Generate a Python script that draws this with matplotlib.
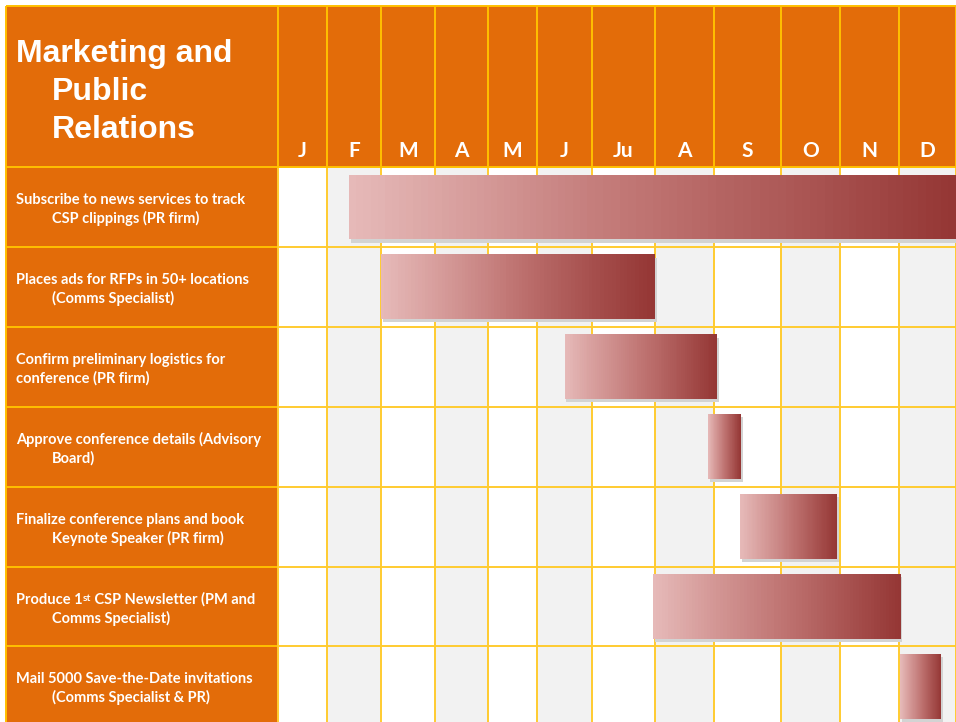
import numpy as np
import matplotlib.pyplot as plt
from matplotlib.patches import Rectangle
from matplotlib.colors import LinearSegmentedColormap

# ---- data ----
title_lines = ['Marketing and', 'Public', 'Relations']
months = ['J', 'F', 'M', 'A', 'M', 'J', 'Ju', 'A', 'S', 'O', 'N', 'D']
task_line1 = [
    'Subscribe to news services to track',
    'Places ads for RFPs in 50+ locations',
    'Confirm preliminary logistics for',
    'Approve conference details (Advisory',
    'Finalize conference plans and book',
    'Produce 1st CSP Newsletter (PM and',
    'Mail 5000 Save-the-Date invitations',
]
task_line2 = [
    'CSP clippings (PR firm)',
    '(Comms Specialist)',
    'conference (PR firm)',
    'Board)',
    'Keynote Speaker (PR firm)',
    'Comms Specialist)',
    '(Comms Specialist & PR)',
]
# start / end of each task in months (0 = start of January, 12 = end of December)
task_start = [1.41, 2.0, 5.5, 7.9, 8.39, 6.97, 11.02]
task_end = [12.0, 7.0, 8.05, 8.4, 9.95, 11.03, 11.74]

# ---- layout (pixels) ----
W, H = 956, 722
X0, XL = 6, 278          # table left edge, label column right edge
Y0, YH = 6, 167          # table top, header bottom
ROW_H = 79.9
col_edges = [278, 327, 381, 435, 488, 537, 592, 655, 714, 781, 840, 899, 956]
indent = [True, True, False, True, True, True, True]

ORANGE = '#E36C09'
GOLD = '#FFC000'
GOLD_LT = '#FFCB30'
GREY = '#F2F2F2'
LBL_FONT = 'Lato'
LW = 1.4

fig = plt.figure(figsize=(W / 100, H / 100), dpi=100)

# background axes in pixel units: header + label column
bg = fig.add_axes([0, 0, 1, 1])
bg.set_xlim(0, W)
bg.set_ylim(H, 0)
bg.axis('off')
bg.add_patch(Rectangle((X0, Y0), W - X0, YH - Y0, color=ORANGE, lw=0))
bg.add_patch(Rectangle((X0, YH), XL - X0, H - YH, color=ORANGE, lw=0))
bg.vlines([X0, XL], Y0, H, color=GOLD, lw=LW)

for k, line in enumerate(title_lines):
    bg.text(16 if k == 0 else 52, 62 + 38 * k, line, color='white', fontsize=23,
            fontweight='bold', family='Liberation Sans', va='baseline')

for i in range(len(task_line1)):
    top = YH + ROW_H * i
    bg.hlines(top, X0, XL, color=GOLD, lw=LW)
    kw = dict(color='white', fontweight='bold', family=LBL_FONT, fontsize=10.5)
    line = task_line1[i]
    if '1st' in line:
        pre, post = line.split('1st')
        t1 = bg.text(16, top + 37, pre + '1', va='baseline', **kw)
        t2 = bg.annotate('st', xy=(1, 1), xycoords=t1, xytext=(0.3, -0.8),
                         textcoords='offset points', va='top', ha='left',
                         color='white', fontweight='bold', family=LBL_FONT, fontsize=7.5)
        bg.annotate(post, xy=(1, 0), xycoords=(t2, t1), va='bottom', ha='left', **kw)
    else:
        bg.text(16, top + 37, line, va='baseline', **kw)
    bg.text(52 if indent[i] else 16, top + 56, task_line2[i], va='baseline', **kw)

# month grid axes: x in months (uneven column widths), y in rows
def fwd(x):
    return np.interp(x, np.arange(13), col_edges)

def inv(p):
    return np.interp(p, col_edges, np.arange(13))

ax = fig.add_axes([XL / W, 0, (W - XL) / W, (H - Y0) / H])
ax.set_xscale('function', functions=(fwd, inv))
ax.set_xlim(0, 12)
y_top = (Y0 - YH) / ROW_H
y_bot = (H - YH) / ROW_H
ax.set_ylim(y_bot, y_top)
ax.axis('off')
ax.patch.set_alpha(0)

n_rows = len(task_line1)
col_colors = ['white' if m % 2 == 0 else GREY for m in range(12)]
ax.bar(np.arange(12), n_rows, width=1, bottom=0, align='edge', color=col_colors, lw=0, zorder=0)
ax.bar(0, -y_top, width=12, bottom=y_top, align='edge', color=ORANGE, lw=0, zorder=0)

for m, lab in enumerate(months):
    ax.text(m + 0.5, -0.125, lab, ha='center', va='baseline', color='white',
            fontsize=15, fontweight='bold', family=LBL_FONT, zorder=5)

# grid lines: deeper gold in the header, lighter in the body
for m in range(13):
    ax.vlines(m, y_top, 0, color=GOLD, lw=LW, clip_on=False, zorder=2)
    ax.vlines(m, 0, y_bot, color=GOLD_LT, lw=LW, clip_on=False, zorder=2)
for r in range(1, n_rows + 1):
    ax.axhline(r, color=GOLD_LT, lw=LW, clip_on=False, zorder=2)
ax.axhline(0, color=GOLD, lw=LW, clip_on=False, zorder=2)
ax.axhline(y_top, color=GOLD, lw=LW, clip_on=False, zorder=2)
bg.hlines(Y0, X0, XL, color=GOLD, lw=LW)

# gradient bars with a soft drop shadow
cmap = LinearSegmentedColormap.from_list('bar', ['#E6B9B8', '#C07573', '#953735'])
n = 80
for i, (s, e) in enumerate(zip(task_start, task_end)):
    yc = i + 0.5
    ax.barh(yc + 0.04, e - s, left=s + 0.03, height=0.81, color='#D3D3D3', lw=0, zorder=3)
    edges = np.linspace(s, e, n + 1)
    ax.barh(np.full(n, yc), np.diff(edges), left=edges[:-1], height=0.81,
            color=cmap(np.linspace(0, 1, n)), lw=0, antialiased=False, zorder=4)

fig.savefig('out.png', dpi=100)
